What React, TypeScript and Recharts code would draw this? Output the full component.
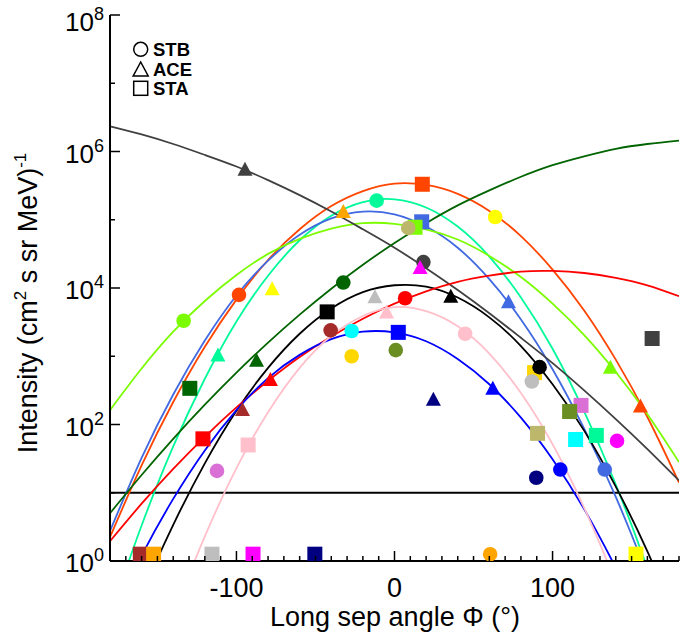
import React from 'react';
import { ComposedChart, Line, Scatter, XAxis, YAxis, ReferenceLine } from 'recharts';

// Angles (deg) at which the Gaussian fits are sampled
const angles = [-180, -160, -140, -120, -100, -80, -60, -40, -20, 0, 20, 40, 60, 80, 100, 120, 140, 160, 180];

// Fitted log10 intensity per event, one value per angle above
const fitE0 = [0.35, 1.4, 2.33, 3.14, 3.83, 4.41, 4.86, 5.2, 5.42, 5.53, 5.51, 5.38, 5.13, 4.76, 4.27, 3.67, 2.95, 2.11, 1.15];
const fitE1 = [-0.79, 0.52, 1.68, 2.67, 3.51, 4.18, 4.7, 5.06, 5.26, 5.3, 5.18, 4.9, 4.46, 3.86, 3.11, 2.19, 1.12, -0.11, -1.5];
const fitE2 = [0.44, 1.51, 2.44, 3.23, 3.89, 4.4, 4.78, 5.02, 5.12, 5.08, 4.9, 4.59, 4.13, 3.54, 2.81, 1.94, 0.94, -0.21, -1.49];
const fitE3 = [2.21, 2.82, 3.36, 3.81, 4.19, 4.5, 4.72, 4.87, 4.95, 4.94, 4.86, 4.71, 4.47, 4.16, 3.77, 3.31, 2.77, 2.15, 1.45];
const fitE4 = [6.37, 6.25, 6.11, 5.95, 5.78, 5.58, 5.36, 5.12, 4.86, 4.59, 4.29, 3.97, 3.63, 3.27, 2.9, 2.5, 2.08, 1.64, 1.18];
const fitE5 = [0.7, 1.26, 1.79, 2.29, 2.76, 3.2, 3.61, 3.99, 4.34, 4.66, 4.95, 5.21, 5.43, 5.63, 5.8, 5.93, 6.04, 6.11, 6.16];
const fitE6 = [-1.66, -0.5, 0.53, 1.43, 2.2, 2.83, 3.33, 3.7, 3.94, 4.04, 4.02, 3.86, 3.57, 3.15, 2.59, 1.91, 1.09, 0.14, -0.95];
const fitE7 = [0.29, 0.84, 1.35, 1.82, 2.25, 2.64, 2.99, 3.29, 3.55, 3.77, 3.95, 4.09, 4.18, 4.24, 4.25, 4.22, 4.15, 4.04, 3.88];
const fitE8 = [-0.86, 0.08, 0.91, 1.62, 2.21, 2.68, 3.02, 3.25, 3.36, 3.35, 3.22, 2.96, 2.59, 2.1, 1.49, 0.76, -0.1, -1.07, -2.16];
const fitE9 = [-3.67, -2.15, -0.81, 0.36, 1.36, 2.18, 2.83, 3.3, 3.59, 3.72, 3.66, 3.44, 3.04, 2.46, 1.71, 0.78, -0.32, -1.6, -3.05];

// Peak intensities: [angle, log10 intensity, event]
const stbPeaks: [number, number, number][] = [
  [-133.4, 3.52, 3], [-98.4, 3.9, 0], [-11.3, 5.28, 1], [63.7, 5.04, 10], [8.7, 4.88, 12],
  [18.3, 4.38, 4], [-32.4, 4.08, 5], [6.7, 3.85, 7], [-40.4, 3.38, 15], [-27.1, 3.37, 16],
  [-27.1, 3.0, 17], [0.8, 3.09, 18], [44.7, 3.33, 9], [91.8, 2.84, 6], [86.9, 2.63, 14],
  [-112.3, 1.32, 19], [89.7, 1.22, 20], [104.9, 1.34, 8], [133, 1.34, 2], [140.8, 1.76, 13],
  [60.5, 0.1, 11],
];
const acePeaks: [number, number, number][] = [
  [-94.6, 5.74, 4], [-32.4, 5.12, 11], [-77.4, 3.99, 10], [16.2, 4.3, 13], [-12.4, 3.87, 14],
  [35.6, 3.88, 6], [-5, 3.65, 9], [72.1, 3.8, 2], [-111.7, 3.02, 1], [-87.3, 2.94, 5],
  [-78.5, 2.66, 7], [-96.2, 2.22, 15], [24.6, 2.37, 20], [62.2, 2.53, 8], [136.6, 2.84, 3],
  [155.6, 2.27, 0],
];
const staPeaks: [number, number, number][] = [
  [17.6, 5.52, 0], [17.2, 4.97, 2], [13, 4.89, 3], [-42.6, 3.65, 6], [2.4, 3.35, 8],
  [163, 3.26, 4], [-129.5, 2.53, 5], [88.6, 2.76, 17], [118, 2.28, 19], [110.8, 2.19, 18],
  [-121.2, 1.79, 7], [-92.6, 1.7, 9], [90.5, 1.87, 12], [114.6, 1.78, 16], [127.7, 1.84, 1],
  [-160.8, 0.1, 15], [-152.4, 0.1, 11], [-115.5, 0.1, 14], [-89.5, 0.1, 13], [-50.4, 0.1, 20],
  [152.8, 0.1, 10],
];

const xTicks = [-180, -170, -160, -150, -140, -130, -120, -110, -100, -90, -80, -70, -60, -50, -40, -30, -20, -10, 0,
  10, 20, 30, 40, 50, 60, 70, 80, 90, 100, 110, 120, 130, 140, 150, 160, 170, 180];
const yTicks = [0, 1, 2, 3, 4, 5, 6, 7, 8];

const EVENT_COLORS = [
  '#FF4500', '#00FA9A', '#4169E1', '#7CFC00', '#404040', '#006400', '#000000', '#FF0000', '#0000FF', '#FFC0CB',
  '#FFFF00', '#FFA500', '#BDB76B', '#FF00FF', '#BEBEBE', '#A52A2A', '#00FFFF', '#FFD700', '#6B8E23', '#DA70D6',
  '#000080',
];

const fits = [fitE0, fitE1, fitE2, fitE3, fitE4, fitE5, fitE6, fitE7, fitE8, fitE9];
const fitRows = angles.map((phi, i) => {
  const row: Record<string, number> = { phi };
  fits.forEach((f, k) => { row[`e${k}`] = f[i]; });
  return row;
});
const toPoints = (list: [number, number, number][]) => list.map(([phi, logI, ev]) => ({ phi, logI, ev }));

const FONT = '"Liberation Sans", Arial, Helvetica, sans-serif';

const BottomTick = ({ x, y, payload }: any) => {
  const v = payload.value;
  const major = v % 100 === 0;
  return (
    <g>
      <line x1={x} x2={x} y1={y} y2={y - (major ? 10 : 5)} stroke="#000" strokeWidth={1.5} />
      {major && (
        <text x={x} y={y + 36} textAnchor="middle" fontSize={27} fontFamily={FONT} fill="#000">{v}</text>
      )}
    </g>
  );
};

const TopTick = ({ x, y, payload }: any) => {
  const major = payload.value % 100 === 0;
  return <line x1={x} x2={x} y1={y} y2={y + (major ? 10 : 5)} stroke="#000" strokeWidth={1.5} />;
};

const LeftTick = ({ x, y, payload }: any) => {
  const v = payload.value;
  const major = v % 2 === 0;
  // the top label sits a little lower so its exponent stays on the page
  const base = v === 8 ? y + 16 : y + 11;
  return (
    <g>
      <line x1={x} x2={x + (major ? 10 : 5)} y1={y} y2={y} stroke="#000" strokeWidth={1.5} />
      {major && (
        <text x={x - 6} y={base} textAnchor="end" fontSize={26} fontFamily={FONT} fill="#000">
          10<tspan dy={-11} fontSize={18}>{v}</tspan>
        </text>
      )}
    </g>
  );
};

const RightTick = ({ x, y, payload }: any) => {
  const major = payload.value % 2 === 0;
  return <line x1={x} x2={x - (major ? 10 : 5)} y1={y} y2={y} stroke="#000" strokeWidth={1.5} />;
};

const circleShape = (p: any) => <circle cx={p.cx} cy={p.cy} r={7.3} fill={EVENT_COLORS[p.payload.ev]} />;
const squareShape = (p: any) => (
  <rect x={p.cx - 7.5} y={p.cy - 7.5} width={15} height={15} fill={EVENT_COLORS[p.payload.ev]} />
);
const triangleShape = (p: any) => (
  <polygon
    points={`${p.cx - 7.5},${p.cy + 6.5} ${p.cx + 7.5},${p.cy + 6.5} ${p.cx},${p.cy - 7.5}`}
    fill={EVENT_COLORS[p.payload.ev]}
  />
);

export default function App() {
  return (
    <div style={{ position: 'absolute', left: 0, top: 0, width: 696, height: 635, background: '#fff' }}>
      <ComposedChart width={696} height={635} data={fitRows} margin={{ top: 15, right: 17, bottom: 0, left: 0 }}>
        <XAxis
          dataKey="phi" type="number" domain={[-180, 180]} allowDataOverflow ticks={xTicks} interval={0}
          height={74} tickSize={0} tickMargin={0} tick={<BottomTick />}
          axisLine={{ stroke: '#000', strokeWidth: 2 }} tickLine={false}
        />
        <XAxis
          xAxisId="top" orientation="top" type="number" domain={[-180, 180]} allowDataOverflow ticks={xTicks}
          interval={0} height={0} tickSize={0} tickMargin={0} tick={<TopTick />}
          axisLine={{ stroke: '#000', strokeWidth: 2 }} tickLine={false}
        />
        <YAxis
          type="number" domain={[0, 8]} allowDataOverflow ticks={yTicks} interval={0} width={110}
          tickSize={0} tickMargin={0} tick={<LeftTick />}
          axisLine={{ stroke: '#000', strokeWidth: 2 }} tickLine={false}
        />
        <YAxis
          yAxisId="right" orientation="right" type="number" domain={[0, 8]} allowDataOverflow ticks={yTicks}
          interval={0} width={0} tickSize={0} tickMargin={0} tick={<RightTick />}
          axisLine={{ stroke: '#000', strokeWidth: 2 }} tickLine={false}
        />

        {/* detection threshold */}
        <ReferenceLine y={1} stroke="#000" strokeWidth={2} />

        {fits.map((_, k) => (
          <Line
            key={k} type="natural" dataKey={`e${k}`} stroke={EVENT_COLORS[k]} strokeWidth={1.8}
            dot={false} activeDot={false} isAnimationActive={false}
          />
        ))}

        <Scatter data={toPoints(staPeaks)} dataKey="logI" shape={squareShape} isAnimationActive={false} />
        <Scatter data={toPoints(stbPeaks)} dataKey="logI" shape={circleShape} isAnimationActive={false} />
        <Scatter data={toPoints(acePeaks)} dataKey="logI" shape={triangleShape} isAnimationActive={false} />
      </ComposedChart>

      <svg width={696} height={635} style={{ position: 'absolute', left: 0, top: 0, pointerEvents: 'none' }}>
        <text transform="translate(37,303) rotate(-90)" textAnchor="middle" fontSize={27} fontFamily={FONT} fill="#000">
          Intensity (cm<tspan dy={-11} fontSize={17}>2</tspan>
          <tspan dy={11}> s sr MeV)</tspan>
          <tspan dy={-11} fontSize={17}>-1</tspan>
        </text>
        <text x={395} y={626} textAnchor="middle" fontSize={27} fontFamily={FONT} fill="#000">
          Long sep angle Φ (°)
        </text>

        <g stroke="#000" strokeWidth={1.5} fill="none">
          <circle cx={140.7} cy={49.3} r={7} />
          <polygon points="133.2,76 148.2,76 140.7,62" />
          <rect x={133.7} y={81.3} width={14} height={14} />
        </g>
        <g fontSize={18.5} fontWeight="bold" fontFamily={FONT} fill="#000">
          <text x={153} y={56}>STB</text>
          <text x={153} y={76}>ACE</text>
          <text x={153} y={95}>STA</text>
        </g>
      </svg>
    </div>
  );
}
